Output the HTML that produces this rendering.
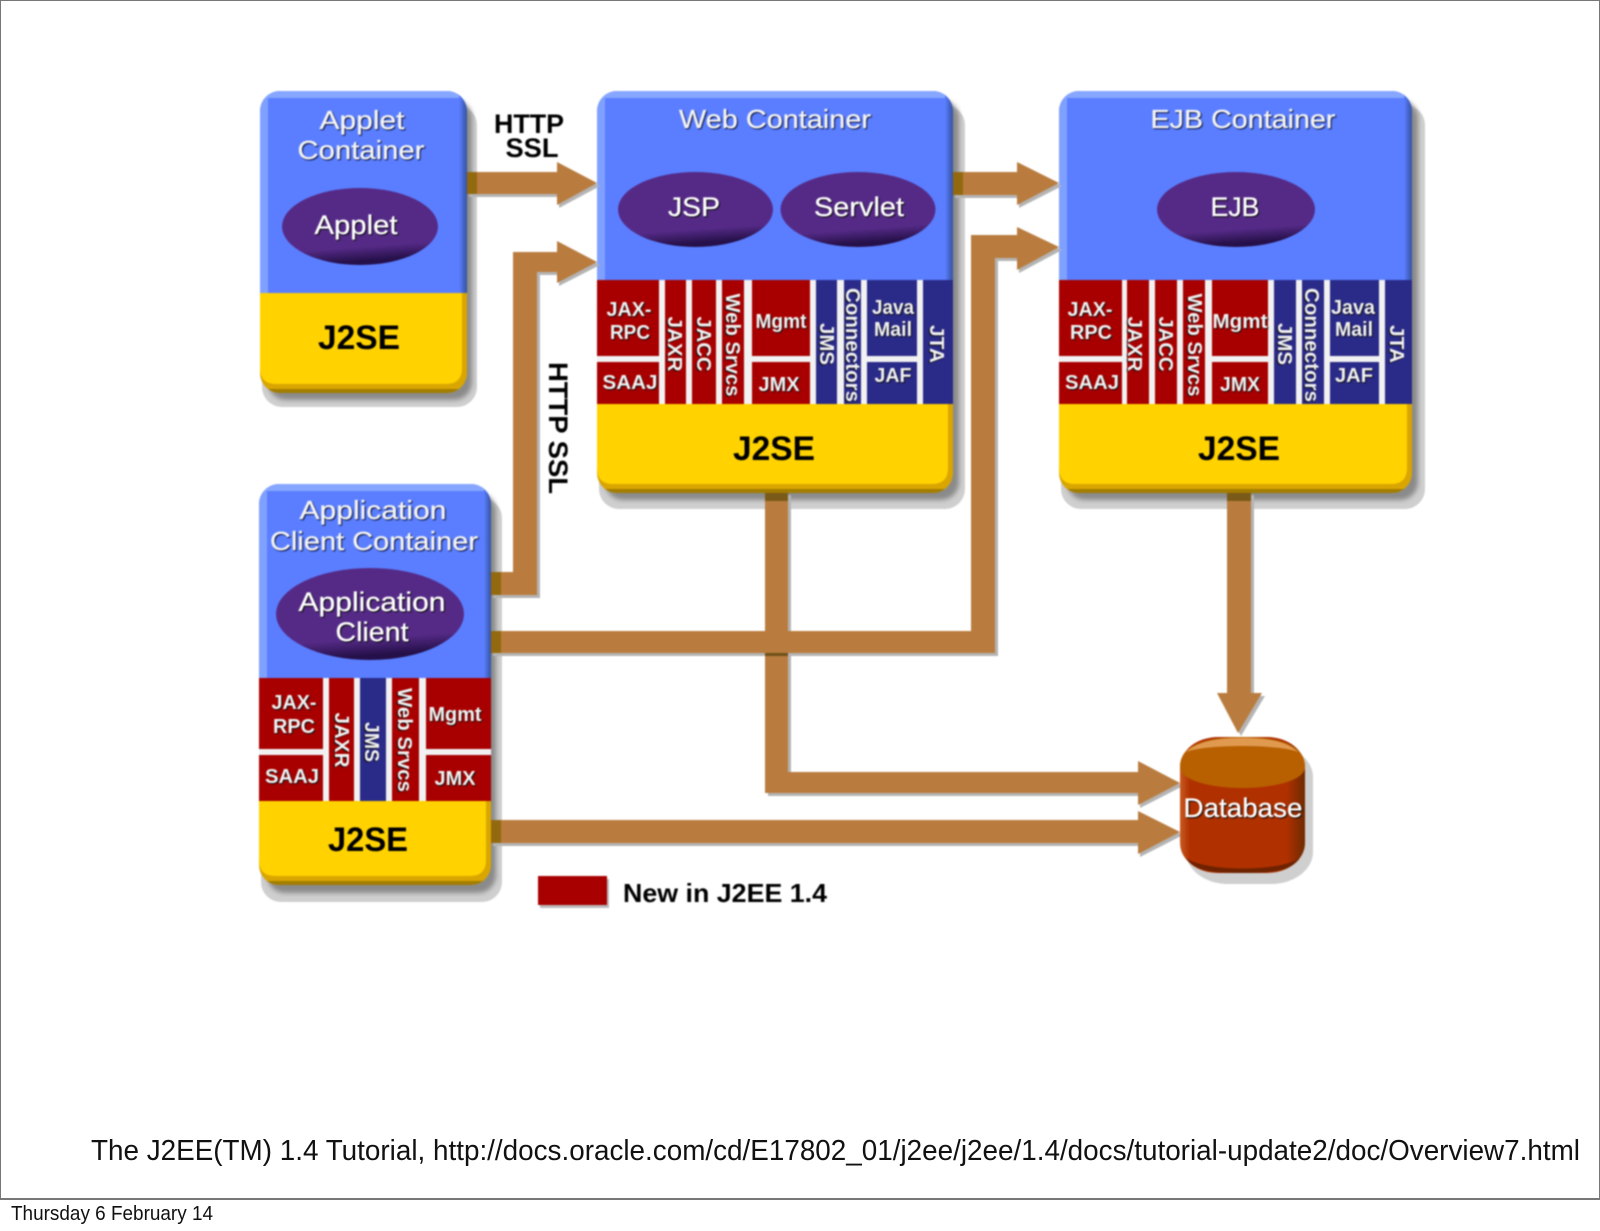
<!DOCTYPE html>
<html><head><meta charset="utf-8"><style>
html,body{margin:0;padding:0;background:#fff;width:1600px;height:1231px;overflow:hidden}
svg{display:block}
text{font-family:"Liberation Sans",sans-serif}
.t{fill:#f2f2f2;font-weight:bold;font-size:20px;text-anchor:middle;dominant-baseline:central;filter:drop-shadow(1.5px 1.5px 0.5px #111)}
.h{fill:#f4f4f4;stroke:#f4f4f4;stroke-width:.3px;font-size:26px;text-anchor:middle;dominant-baseline:central;filter:drop-shadow(1.5px 1.5px 0.6px #0c1238)}
.e{fill:#fff;stroke:#fff;stroke-width:.3px;font-size:27px;text-anchor:middle;dominant-baseline:central;filter:drop-shadow(1.5px 1.5px 0.6px #080808)}
.b{fill:#000;font-weight:bold;text-anchor:middle;dominant-baseline:central}
.r{fill:#a80000}.n{fill:#2a2a88}
.a{fill:#b97c3e}.s{fill:#b4b4b4}
.lip{fill:#d9a500}.dk{fill:#a27d00}.yel{fill:#ffd200}
.sd{fill:#8a8a8a;filter:blur(2.5px)}.so{fill:#cfcfcf}
</style></head><body>
<svg width="1600" height="1231" viewBox="0 0 1600 1231" xmlns="http://www.w3.org/2000/svg">
<defs>
<linearGradient id="el" x1="0" y1="0" x2="0.15" y2="1"><stop offset="0" stop-color="#9a7ac8"/><stop offset=".07" stop-color="#552a87"/><stop offset=".82" stop-color="#552a87"/><stop offset="1" stop-color="#26104a"/></linearGradient>
<linearGradient id="db" x1="0" y1="0" x2="1" y2="0"><stop offset="0" stop-color="#c85a20"/><stop offset=".08" stop-color="#b03000"/><stop offset=".85" stop-color="#b03000"/><stop offset="1" stop-color="#6e2a00"/></linearGradient>
<linearGradient id="rb" x1="0" y1="0" x2="1" y2="0"><stop offset="0" stop-color="#5a7eff"/><stop offset=".4" stop-color="#4a6bd8"/><stop offset="1" stop-color="#37539f"/></linearGradient>
<clipPath id="c1"><rect x="260" y="91" width="207" height="302" rx="20"/></clipPath>
<clipPath id="c2"><rect x="597" y="91" width="356" height="402" rx="20"/></clipPath>
<clipPath id="c3"><rect x="1059" y="91" width="353" height="402" rx="20"/></clipPath>
<clipPath id="c4"><rect x="259" y="484" width="232" height="401" rx="20"/></clipPath>
</defs>
<rect x="0.5" y="0.5" width="1599" height="1199" fill="#fff" stroke="#777" stroke-width="1"/>
<rect x="0" y="1198" width="1600" height="2" fill="#777"/>

<g style="filter:blur(0.8px)">
<!-- container shadows -->
<rect class="so" x="262" y="105" width="215" height="302" rx="20"/><rect class="sd" x="268" y="100" width="204" height="300" rx="18"/>
<rect class="so" x="599" y="105" width="366" height="404" rx="20"/><rect class="sd" x="605" y="100" width="354" height="400" rx="18"/>
<rect class="so" x="1061" y="105" width="364" height="404" rx="20"/><rect class="sd" x="1067" y="100" width="351" height="400" rx="18"/>
<rect class="so" x="261" y="498" width="241" height="404" rx="20"/><rect class="sd" x="267" y="493" width="229" height="400" rx="18"/>

<!-- applet container -->
<g clip-path="url(#c1)">
<rect x="260" y="91" width="207" height="202" fill="#5a7eff"/>
<rect x="260" y="91" width="8" height="202" fill="#7fa0ff"/><rect x="260" y="91" width="207" height="7" fill="#86a6ff"/>
<rect x="459" y="91" width="8" height="202" fill="url(#rb)"/>
<rect class="lip" x="260" y="293" width="207" height="100"/>
<rect class="dk" x="260" y="389" width="207" height="4"/>
<path class="yel" d="M260 293H462V368Q462 384 446 384H276Q260 384 260 368Z"/>
</g>
<!-- web container -->
<g clip-path="url(#c2)">
<rect x="597" y="91" width="356" height="190" fill="#5a7eff"/>
<rect x="597" y="91" width="8" height="190" fill="#7fa0ff"/><rect x="597" y="91" width="356" height="7" fill="#86a6ff"/>
<rect x="945" y="91" width="8" height="190" fill="url(#rb)"/>
<rect x="597" y="280" width="356" height="124" fill="#f2f2f2"/>
<rect class="r" x="597" y="280" width="62" height="76"/><rect class="r" x="597" y="362" width="62" height="42"/>
<rect class="r" x="665" y="280" width="21" height="124"/><rect class="r" x="692" y="280" width="24" height="124"/><rect class="r" x="722" y="280" width="22" height="124"/>
<rect class="r" x="752" y="280" width="58" height="76"/><rect class="r" x="752" y="362" width="58" height="42"/>
<rect class="n" x="816" y="280" width="21" height="124"/><rect class="n" x="844" y="280" width="17" height="124"/>
<rect class="n" x="867" y="280" width="50" height="76"/><rect class="n" x="867" y="362" width="50" height="42"/>
<rect class="n" x="923" y="280" width="30" height="124"/>
<rect class="lip" x="597" y="404" width="356" height="89"/>
<rect class="dk" x="597" y="489" width="356" height="4"/>
<path class="yel" d="M597 404H948V468Q948 484 932 484H613Q597 484 597 468Z"/>
</g>
<!-- ejb container -->
<g clip-path="url(#c3)">
<rect x="1059" y="91" width="353" height="190" fill="#5a7eff"/>
<rect x="1059" y="91" width="8" height="190" fill="#7fa0ff"/><rect x="1059" y="91" width="353" height="7" fill="#86a6ff"/>
<rect x="1404" y="91" width="8" height="190" fill="url(#rb)"/>
<rect x="1059" y="280" width="353" height="124" fill="#f2f2f2"/>
<rect class="r" x="1059" y="280" width="63" height="76"/><rect class="r" x="1059" y="362" width="63" height="42"/>
<rect class="r" x="1127" y="280" width="22" height="124"/><rect class="r" x="1155" y="280" width="22" height="124"/><rect class="r" x="1183" y="280" width="22" height="124"/>
<rect class="r" x="1212" y="280" width="56" height="76"/><rect class="r" x="1212" y="362" width="56" height="42"/>
<rect class="n" x="1274" y="280" width="22" height="124"/><rect class="n" x="1302" y="280" width="22" height="124"/>
<rect class="n" x="1330" y="280" width="49" height="76"/><rect class="n" x="1330" y="362" width="49" height="42"/>
<rect class="n" x="1385" y="280" width="27" height="124"/>
<rect class="lip" x="1059" y="404" width="353" height="89"/>
<rect class="dk" x="1059" y="489" width="353" height="4"/>
<path class="yel" d="M1059 404H1407V468Q1407 484 1391 484H1075Q1059 484 1059 468Z"/>
</g>
<!-- application client container -->
<g clip-path="url(#c4)">
<rect x="259" y="484" width="232" height="195" fill="#5a7eff"/>
<rect x="259" y="484" width="8" height="195" fill="#7fa0ff"/><rect x="259" y="484" width="232" height="7" fill="#86a6ff"/>
<rect x="484" y="484" width="7" height="195" fill="url(#rb)"/>
<rect x="259" y="678" width="232" height="123" fill="#f2f2f2"/>
<rect class="r" x="259" y="678" width="64" height="71"/><rect class="r" x="259" y="755" width="64" height="46"/>
<rect class="r" x="329" y="678" width="25" height="123"/>
<rect class="n" x="360" y="678" width="26" height="123"/>
<rect class="r" x="392" y="678" width="27" height="123"/>
<rect class="r" x="426" y="678" width="65" height="71"/><rect class="r" x="426" y="755" width="65" height="46"/>
<rect class="lip" x="259" y="801" width="232" height="84"/>
<rect class="dk" x="259" y="881" width="232" height="4"/>
<path class="yel" d="M259 801H486V860Q486 876 470 876H275Q259 876 259 860Z"/>
</g>

<!-- arrow shadows -->
<path class="s" d="M469 175H559V165L600 186L559 208V197H469Z"/>
<path class="s" d="M493 598H540V275H559V286L600 265L559 244V255H516V575H493Z"/>
<path class="s" d="M955 175H1019V165L1062 186L1019 208V198H955Z"/>
<path class="s" d="M493 656H998V261H1019V273L1062 250L1019 230V238H974V634H493Z"/>
<path class="s" d="M768 495H791V776H1140V764L1183 786L1140 808V796H768Z"/>
<path class="s" d="M493 824H1140V814L1183 835L1140 857V846H493Z"/>
<path class="s" d="M1230 495H1254V696H1265L1241 736L1220 696H1230Z"/>
<!-- arrows -->
<path class="a" d="M467 172H557V162L597 183L557 205V194H467Z"/>
<path class="a" d="M491 595H537V272H557V283L597 262L557 241V252H513V572H491Z"/>
<path class="a" d="M953 172H1017V162L1059 183L1017 205V195H953Z"/>
<path class="a" d="M491 653H995V258H1017V270L1059 247L1017 227V235H971V631H491Z"/>
<path class="a" d="M765 493H788V772H1138V761L1180 783L1138 805V793H765Z"/>
<path class="a" d="M491 820H1138V811L1180 832L1138 854V843H491Z"/>
<path class="a" d="M1227 493H1251V693H1262L1238 733L1217 693H1227Z"/>
<!-- arrow start shading -->
<rect x="467" y="172" width="10" height="22" fill="#93690f"/>
<rect x="953" y="172" width="10" height="23" fill="#93690f"/>
<rect x="491" y="572" width="10" height="23" fill="#93690f"/>
<rect x="491" y="631" width="10" height="22" fill="#93690f"/>
<rect x="491" y="820" width="10" height="23" fill="#93690f"/>
<rect x="765" y="493" width="23" height="8" fill="#7a5a18"/>
<rect x="1227" y="493" width="24" height="8" fill="#7a5a18"/>
<rect x="765" y="653" width="23" height="3" fill="#6e5018"/>

<!-- ellipses -->
<ellipse cx="360" cy="226.500" rx="78" ry="38.500" fill="url(#el)"/>
<ellipse cx="695.500" cy="209.500" rx="77.500" ry="37.500" fill="url(#el)"/>
<ellipse cx="858" cy="209.500" rx="77.500" ry="37.500" fill="url(#el)"/>
<ellipse cx="1236" cy="209.500" rx="79" ry="37.500" fill="url(#el)"/>
<ellipse cx="370" cy="614" rx="94" ry="46" fill="url(#el)"/>

<!-- database -->
<rect x="1186" y="745" width="127" height="139" rx="42" ry="32" fill="#cfcfcf"/>
<rect x="1180" y="737" width="125" height="136" rx="38" ry="30" fill="url(#db)"/>
<path d="M1180 767C1180 745 1205 737 1242 737C1280 737 1305 745 1305 767C1305 780 1275 788 1242 788C1210 788 1180 780 1180 767Z" fill="#b86000"/>
<path d="M1186 752C1200 739 1225 738 1242 738C1260 738 1285 739 1298 752C1280 744 1205 744 1186 752Z" fill="#e09a50"/>
<path d="M1186 858C1205 872 1280 872 1300 858C1290 872 1270 873 1242 873C1215 873 1195 872 1186 858Z" fill="#6e2200"/>

<!-- legend -->
<rect x="540" y="879" width="69" height="29" fill="#bbb"/>
<rect x="538" y="876" width="69" height="29" fill="#a80000"/>
<text class="b" x="725" y="893" font-size="26" textLength="204" lengthAdjust="spacingAndGlyphs">New in J2EE 1.4</text>

<!-- connector labels -->
<text class="b" x="529" y="124" font-size="27" textLength="70" lengthAdjust="spacingAndGlyphs">HTTP</text>
<text class="b" x="532" y="148" font-size="27" textLength="53" lengthAdjust="spacingAndGlyphs">SSL</text>
<text class="b" font-size="27" textLength="132" lengthAdjust="spacingAndGlyphs" transform="translate(558 428) rotate(90)">HTTP SSL</text>

<!-- titles -->
<text class="h" x="362" y="120" textLength="85" lengthAdjust="spacingAndGlyphs">Applet</text>
<text class="h" x="361" y="150" textLength="127" lengthAdjust="spacingAndGlyphs">Container</text>
<text class="h" x="775" y="119" textLength="192" lengthAdjust="spacingAndGlyphs">Web Container</text>
<text class="h" x="1243" y="119" textLength="185" lengthAdjust="spacingAndGlyphs">EJB Container</text>
<text class="h" x="373" y="510" textLength="147" lengthAdjust="spacingAndGlyphs">Application</text>
<text class="h" x="374" y="541" textLength="208" lengthAdjust="spacingAndGlyphs">Client Container</text>

<!-- ellipse labels -->
<text class="e" x="356" y="225" textLength="83" lengthAdjust="spacingAndGlyphs">Applet</text>
<text class="e" x="694" y="207" textLength="52" lengthAdjust="spacingAndGlyphs">JSP</text>
<text class="e" x="859" y="207" textLength="90" lengthAdjust="spacingAndGlyphs">Servlet</text>
<text class="e" x="1235" y="207" textLength="49" lengthAdjust="spacingAndGlyphs">EJB</text>
<text class="e" x="372" y="602" textLength="147" lengthAdjust="spacingAndGlyphs">Application</text>
<text class="e" x="372" y="632" textLength="73" lengthAdjust="spacingAndGlyphs">Client</text>
<text class="e" x="1243" y="808" font-size="26" textLength="119" lengthAdjust="spacingAndGlyphs">Database</text>

<!-- J2SE -->
<text class="b" x="359" y="338" font-size="34" textLength="82" lengthAdjust="spacingAndGlyphs">J2SE</text>
<text class="b" x="774" y="449" font-size="34" textLength="82" lengthAdjust="spacingAndGlyphs">J2SE</text>
<text class="b" x="1239" y="449" font-size="34" textLength="82" lengthAdjust="spacingAndGlyphs">J2SE</text>
<text class="b" x="368" y="840" font-size="34" textLength="80" lengthAdjust="spacingAndGlyphs">J2SE</text>

<!-- web tech labels -->
<text class="t" x="629" y="310" textLength="45" lengthAdjust="spacingAndGlyphs">JAX-</text>
<text class="t" x="630" y="333" textLength="40" lengthAdjust="spacingAndGlyphs">RPC</text>
<text class="t" x="630" y="383" textLength="55" lengthAdjust="spacingAndGlyphs">SAAJ</text>
<text class="t" textLength="55" lengthAdjust="spacingAndGlyphs" transform="translate(674 344) rotate(90)">JAXR</text>
<text class="t" textLength="55" lengthAdjust="spacingAndGlyphs" transform="translate(703 344) rotate(90)">JACC</text>
<text class="t" textLength="103" lengthAdjust="spacingAndGlyphs" transform="translate(732 345) rotate(90)">Web Srvcs</text>
<text class="t" x="781" y="322" textLength="51" lengthAdjust="spacingAndGlyphs">Mgmt</text>
<text class="t" x="779" y="385" textLength="41" lengthAdjust="spacingAndGlyphs">JMX</text>
<text class="t" textLength="42" lengthAdjust="spacingAndGlyphs" transform="translate(826 344) rotate(90)">JMS</text>
<text class="t" textLength="114" lengthAdjust="spacingAndGlyphs" transform="translate(852 345) rotate(90)">Connectors</text>
<text class="t" x="893" y="308" textLength="42" lengthAdjust="spacingAndGlyphs">Java</text>
<text class="t" x="893" y="330" textLength="38" lengthAdjust="spacingAndGlyphs">Mail</text>
<text class="t" x="893" y="376" textLength="37" lengthAdjust="spacingAndGlyphs">JAF</text>
<text class="t" textLength="38" lengthAdjust="spacingAndGlyphs" transform="translate(936 344) rotate(90)">JTA</text>

<!-- ejb tech labels -->
<text class="t" x="1090" y="310" textLength="45" lengthAdjust="spacingAndGlyphs">JAX-</text>
<text class="t" x="1091" y="333" textLength="42" lengthAdjust="spacingAndGlyphs">RPC</text>
<text class="t" x="1092" y="383" textLength="54" lengthAdjust="spacingAndGlyphs">SAAJ</text>
<text class="t" textLength="55" lengthAdjust="spacingAndGlyphs" transform="translate(1134 344) rotate(90)">JAXR</text>
<text class="t" textLength="55" lengthAdjust="spacingAndGlyphs" transform="translate(1165 344) rotate(90)">JACC</text>
<text class="t" textLength="103" lengthAdjust="spacingAndGlyphs" transform="translate(1194 345) rotate(90)">Web Srvcs</text>
<text class="t" x="1240" y="322" textLength="55" lengthAdjust="spacingAndGlyphs">Mgmt</text>
<text class="t" x="1240" y="385" textLength="40" lengthAdjust="spacingAndGlyphs">JMX</text>
<text class="t" textLength="42" lengthAdjust="spacingAndGlyphs" transform="translate(1284 344) rotate(90)">JMS</text>
<text class="t" textLength="114" lengthAdjust="spacingAndGlyphs" transform="translate(1311 345) rotate(90)">Connectors</text>
<text class="t" x="1353" y="308" textLength="44" lengthAdjust="spacingAndGlyphs">Java</text>
<text class="t" x="1354" y="330" textLength="38" lengthAdjust="spacingAndGlyphs">Mail</text>
<text class="t" x="1354" y="376" textLength="38" lengthAdjust="spacingAndGlyphs">JAF</text>
<text class="t" textLength="38" lengthAdjust="spacingAndGlyphs" transform="translate(1396 344) rotate(90)">JTA</text>

<!-- app client tech labels -->
<text class="t" x="294" y="703" textLength="45" lengthAdjust="spacingAndGlyphs">JAX-</text>
<text class="t" x="294" y="727" textLength="42" lengthAdjust="spacingAndGlyphs">RPC</text>
<text class="t" x="292" y="777" textLength="54" lengthAdjust="spacingAndGlyphs">SAAJ</text>
<text class="t" textLength="55" lengthAdjust="spacingAndGlyphs" transform="translate(341 740) rotate(90)">JAXR</text>
<text class="t" textLength="40" lengthAdjust="spacingAndGlyphs" transform="translate(371 742) rotate(90)">JMS</text>
<text class="t" textLength="104" lengthAdjust="spacingAndGlyphs" transform="translate(404 740) rotate(90)">Web Srvcs</text>
<text class="t" x="455" y="715" textLength="53" lengthAdjust="spacingAndGlyphs">Mgmt</text>
<text class="t" x="455" y="779" textLength="41" lengthAdjust="spacingAndGlyphs">JMX</text>
</g>

<!-- caption -->
<text x="91" y="1160" font-size="29" fill="#111" textLength="1489" lengthAdjust="spacingAndGlyphs">The J2EE(TM) 1.4 Tutorial, http://docs.oracle.com/cd/E17802_01/j2ee/j2ee/1.4/docs/tutorial-update2/doc/Overview7.html</text>
<text x="11" y="1220" font-size="20" fill="#111" textLength="202" lengthAdjust="spacingAndGlyphs">Thursday 6 February 14</text>
</svg>
</body></html>
